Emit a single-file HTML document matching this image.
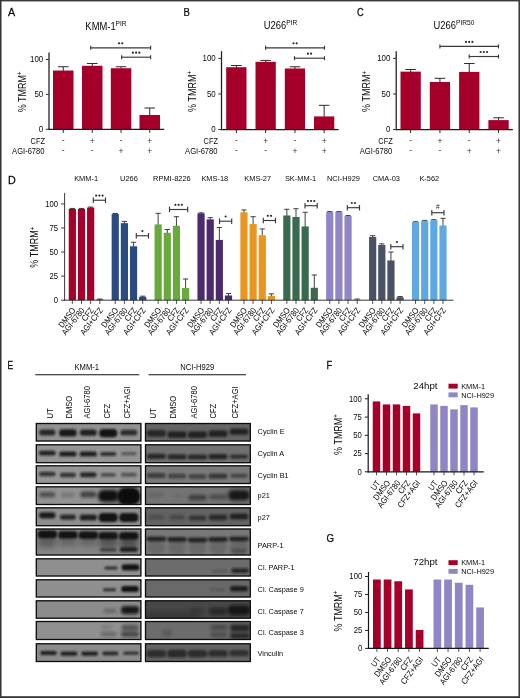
<!DOCTYPE html>
<html><head><meta charset="utf-8"><title>Figure</title>
<style>
html,body{margin:0;padding:0;background:#fff;}
body{width:520px;height:698px;overflow:hidden;font-family:"Liberation Sans",sans-serif;}
svg{display:block;will-change:transform;font-family:"Liberation Sans",sans-serif;}
</style></head><body>
<svg width="520" height="698" viewBox="0 0 520 698">
<rect x="0" y="0" width="520" height="698" fill="#ffffff"/>
<text transform="translate(8 16.3) scale(0.92 1)" font-size="11.7" text-anchor="start" fill="#0a0a0a" stroke="#0a0a0a" stroke-width="0.25">A</text>
<text transform="translate(106 30.0) scale(0.92 1)" font-size="10.2" text-anchor="middle" fill="#0a0a0a">KMM-1<tspan font-size="7.2" dy="-3.9">PIR</tspan></text>
<line x1="63.25" y1="71.0284" x2="63.25" y2="66.7592" stroke="#2a2a2a" stroke-width="1.0"/>
<line x1="57.95" y1="66.7592" x2="68.55" y2="66.7592" stroke="#2a2a2a" stroke-width="1.0"/>
<rect x="53.00" y="70.53" width="20.50" height="58.77" fill="#a5002a"/>
<line x1="92.25" y1="66.28200000000001" x2="92.25" y2="63.4786" stroke="#2a2a2a" stroke-width="1.0"/>
<line x1="86.95" y1="63.4786" x2="97.55" y2="63.4786" stroke="#2a2a2a" stroke-width="1.0"/>
<rect x="82.00" y="65.78" width="20.50" height="63.52" fill="#a5002a"/>
<line x1="121.05" y1="68.72500000000001" x2="121.05" y2="66.7592" stroke="#2a2a2a" stroke-width="1.0"/>
<line x1="115.75" y1="66.7592" x2="126.35" y2="66.7592" stroke="#2a2a2a" stroke-width="1.0"/>
<rect x="110.80" y="68.23" width="20.50" height="61.08" fill="#a5002a"/>
<line x1="149.75" y1="115.49100000000001" x2="149.75" y2="108.01100000000001" stroke="#2a2a2a" stroke-width="1.0"/>
<line x1="144.45" y1="108.01100000000001" x2="155.05" y2="108.01100000000001" stroke="#2a2a2a" stroke-width="1.0"/>
<rect x="139.50" y="114.99" width="20.50" height="14.31" fill="#a5002a"/>
<line x1="49.0" y1="52.5" x2="49.0" y2="129.9" stroke="#1c1c1c" stroke-width="1.25"/>
<line x1="48.4" y1="129.3" x2="164.2" y2="129.3" stroke="#1c1c1c" stroke-width="1.25"/>
<line x1="45.8" y1="129.3" x2="49.0" y2="129.3" stroke="#333" stroke-width="1.0"/>
<text transform="translate(43.2 132.20000000000002) scale(0.94 1)" font-size="8.4" text-anchor="end" fill="#0a0a0a">0</text>
<line x1="45.8" y1="94.4" x2="49.0" y2="94.4" stroke="#333" stroke-width="1.0"/>
<text transform="translate(43.2 97.30000000000001) scale(0.94 1)" font-size="8.4" text-anchor="end" fill="#0a0a0a">50</text>
<line x1="45.8" y1="59.5" x2="49.0" y2="59.5" stroke="#333" stroke-width="1.0"/>
<text transform="translate(43.2 62.4) scale(0.94 1)" font-size="8.4" text-anchor="end" fill="#0a0a0a">100</text>
<line x1="63.25" y1="129.3" x2="63.25" y2="132.8" stroke="#222" stroke-width="1.0"/>
<text x="63.25" y="142.70000000000002" font-size="8.5" text-anchor="middle" fill="#333">-</text>
<text x="63.25" y="152.70000000000002" font-size="8.5" text-anchor="middle" fill="#333">-</text>
<line x1="92.25" y1="129.3" x2="92.25" y2="132.8" stroke="#222" stroke-width="1.0"/>
<text x="92.25" y="143.8" font-size="8.5" text-anchor="middle" fill="#333">+</text>
<text x="92.25" y="152.70000000000002" font-size="8.5" text-anchor="middle" fill="#333">-</text>
<line x1="121.05" y1="129.3" x2="121.05" y2="132.8" stroke="#222" stroke-width="1.0"/>
<text x="121.05" y="142.70000000000002" font-size="8.5" text-anchor="middle" fill="#333">-</text>
<text x="121.05" y="153.8" font-size="8.5" text-anchor="middle" fill="#333">+</text>
<line x1="149.75" y1="129.3" x2="149.75" y2="132.8" stroke="#222" stroke-width="1.0"/>
<text x="149.75" y="143.8" font-size="8.5" text-anchor="middle" fill="#333">+</text>
<text x="149.75" y="153.8" font-size="8.5" text-anchor="middle" fill="#333">+</text>
<text transform="translate(45 143.60000000000002) scale(0.86 1)" font-size="8.6" text-anchor="end" fill="#0a0a0a">CFZ</text>
<text transform="translate(44.5 153.70000000000002) scale(0.88 1)" font-size="8.6" text-anchor="end" fill="#0a0a0a">AGI-6780</text>
<text transform="translate(25.8 91.9) rotate(-90) scale(0.9 1)" font-size="10" text-anchor="middle" fill="#0a0a0a">% TMRM<tspan font-size="6.80" dy="-3.6">+</tspan></text>
<line x1="90.7" y1="47.8" x2="150.6" y2="47.8" stroke="#3a3a3a" stroke-width="1.15"/>
<line x1="90.7" y1="45.8" x2="90.7" y2="49.8" stroke="#3a3a3a" stroke-width="1.15"/>
<line x1="150.6" y1="45.8" x2="150.6" y2="49.8" stroke="#3a3a3a" stroke-width="1.15"/>
<circle cx="119.05" cy="43.30" r="1.1" fill="#2e2e2e"/>
<circle cx="122.25" cy="43.30" r="1.1" fill="#2e2e2e"/>
<line x1="121.6" y1="57.2" x2="150.6" y2="57.2" stroke="#3a3a3a" stroke-width="1.15"/>
<line x1="121.6" y1="55.2" x2="121.6" y2="59.2" stroke="#3a3a3a" stroke-width="1.15"/>
<line x1="150.6" y1="55.2" x2="150.6" y2="59.2" stroke="#3a3a3a" stroke-width="1.15"/>
<circle cx="132.90" cy="52.70" r="1.1" fill="#2e2e2e"/>
<circle cx="136.10" cy="52.70" r="1.1" fill="#2e2e2e"/>
<circle cx="139.30" cy="52.70" r="1.1" fill="#2e2e2e"/>
<text transform="translate(183.5 16.3) scale(0.81 1)" font-size="11.7" text-anchor="start" fill="#0a0a0a" stroke="#0a0a0a" stroke-width="0.25">B</text>
<text transform="translate(280.5 28.7) scale(0.92 1)" font-size="10.2" text-anchor="middle" fill="#0a0a0a">U266<tspan font-size="7.2" dy="-3.9">PIR</tspan></text>
<line x1="236.35" y1="67.71640000000001" x2="236.35" y2="65.51" stroke="#2a2a2a" stroke-width="1.0"/>
<line x1="231.04999999999998" y1="65.51" x2="241.65" y2="65.51" stroke="#2a2a2a" stroke-width="1.0"/>
<rect x="226.20" y="67.22" width="20.30" height="62.28" fill="#a5002a"/>
<line x1="265.65" y1="62.312799999999996" x2="265.65" y2="60.3908" stroke="#2a2a2a" stroke-width="1.0"/>
<line x1="260.34999999999997" y1="60.3908" x2="270.95" y2="60.3908" stroke="#2a2a2a" stroke-width="1.0"/>
<rect x="255.50" y="61.81" width="20.30" height="67.69" fill="#a5002a"/>
<line x1="294.95" y1="68.9962" x2="294.95" y2="66.7898" stroke="#2a2a2a" stroke-width="1.0"/>
<line x1="289.65" y1="66.7898" x2="300.25" y2="66.7898" stroke="#2a2a2a" stroke-width="1.0"/>
<rect x="284.80" y="68.50" width="20.30" height="61.00" fill="#a5002a"/>
<line x1="324.15" y1="116.91760000000001" x2="324.15" y2="105.326" stroke="#2a2a2a" stroke-width="1.0"/>
<line x1="318.84999999999997" y1="105.326" x2="329.45" y2="105.326" stroke="#2a2a2a" stroke-width="1.0"/>
<rect x="314.00" y="116.42" width="20.30" height="13.08" fill="#a5002a"/>
<line x1="221.5" y1="51.2" x2="221.5" y2="130.1" stroke="#1c1c1c" stroke-width="1.25"/>
<line x1="220.9" y1="129.5" x2="338.6" y2="129.5" stroke="#1c1c1c" stroke-width="1.25"/>
<line x1="218.3" y1="129.5" x2="221.5" y2="129.5" stroke="#333" stroke-width="1.0"/>
<text transform="translate(215.7 132.4) scale(0.94 1)" font-size="8.4" text-anchor="end" fill="#0a0a0a">0</text>
<line x1="218.3" y1="93.95" x2="221.5" y2="93.95" stroke="#333" stroke-width="1.0"/>
<text transform="translate(215.7 96.85000000000001) scale(0.94 1)" font-size="8.4" text-anchor="end" fill="#0a0a0a">50</text>
<line x1="218.3" y1="58.400000000000006" x2="221.5" y2="58.400000000000006" stroke="#333" stroke-width="1.0"/>
<text transform="translate(215.7 61.300000000000004) scale(0.94 1)" font-size="8.4" text-anchor="end" fill="#0a0a0a">100</text>
<line x1="236.35" y1="129.5" x2="236.35" y2="133.0" stroke="#222" stroke-width="1.0"/>
<text x="236.35" y="142.9" font-size="8.5" text-anchor="middle" fill="#333">-</text>
<text x="236.35" y="152.9" font-size="8.5" text-anchor="middle" fill="#333">-</text>
<line x1="265.65" y1="129.5" x2="265.65" y2="133.0" stroke="#222" stroke-width="1.0"/>
<text x="265.65" y="144.0" font-size="8.5" text-anchor="middle" fill="#333">+</text>
<text x="265.65" y="152.9" font-size="8.5" text-anchor="middle" fill="#333">-</text>
<line x1="294.95" y1="129.5" x2="294.95" y2="133.0" stroke="#222" stroke-width="1.0"/>
<text x="294.95" y="142.9" font-size="8.5" text-anchor="middle" fill="#333">-</text>
<text x="294.95" y="154.0" font-size="8.5" text-anchor="middle" fill="#333">+</text>
<line x1="324.15" y1="129.5" x2="324.15" y2="133.0" stroke="#222" stroke-width="1.0"/>
<text x="324.15" y="144.0" font-size="8.5" text-anchor="middle" fill="#333">+</text>
<text x="324.15" y="154.0" font-size="8.5" text-anchor="middle" fill="#333">+</text>
<text transform="translate(218 143.8) scale(0.86 1)" font-size="8.6" text-anchor="end" fill="#0a0a0a">CFZ</text>
<text transform="translate(217.5 153.9) scale(0.88 1)" font-size="8.6" text-anchor="end" fill="#0a0a0a">AGI-6780</text>
<text transform="translate(195.8 91.45) rotate(-90) scale(0.9 1)" font-size="10" text-anchor="middle" fill="#0a0a0a">% TMRM<tspan font-size="6.80" dy="-3.6">+</tspan></text>
<line x1="265.6" y1="47.8" x2="324.5" y2="47.8" stroke="#3a3a3a" stroke-width="1.15"/>
<line x1="265.6" y1="45.8" x2="265.6" y2="49.8" stroke="#3a3a3a" stroke-width="1.15"/>
<line x1="324.5" y1="45.8" x2="324.5" y2="49.8" stroke="#3a3a3a" stroke-width="1.15"/>
<circle cx="293.45" cy="43.30" r="1.1" fill="#2e2e2e"/>
<circle cx="296.65" cy="43.30" r="1.1" fill="#2e2e2e"/>
<line x1="294.5" y1="58.2" x2="324.5" y2="58.2" stroke="#3a3a3a" stroke-width="1.15"/>
<line x1="294.5" y1="56.2" x2="294.5" y2="60.2" stroke="#3a3a3a" stroke-width="1.15"/>
<line x1="324.5" y1="56.2" x2="324.5" y2="60.2" stroke="#3a3a3a" stroke-width="1.15"/>
<circle cx="307.90" cy="53.70" r="1.1" fill="#2e2e2e"/>
<circle cx="311.10" cy="53.70" r="1.1" fill="#2e2e2e"/>
<text transform="translate(357 16.3) scale(0.8 1)" font-size="11.7" text-anchor="start" fill="#0a0a0a" stroke="#0a0a0a" stroke-width="0.25">C</text>
<text transform="translate(454 28.7) scale(0.92 1)" font-size="10.2" text-anchor="middle" fill="#0a0a0a">U266<tspan font-size="7.2" dy="-3.9">PIR50</tspan></text>
<line x1="410.65" y1="72.1246" x2="410.65" y2="69.4916" stroke="#2a2a2a" stroke-width="1.0"/>
<line x1="405.34999999999997" y1="69.4916" x2="415.95" y2="69.4916" stroke="#2a2a2a" stroke-width="1.0"/>
<rect x="400.50" y="71.62" width="20.30" height="57.88" fill="#a5002a"/>
<line x1="439.95" y1="82.5052" x2="439.95" y2="78.30799999999999" stroke="#2a2a2a" stroke-width="1.0"/>
<line x1="434.65" y1="78.30799999999999" x2="445.25" y2="78.30799999999999" stroke="#2a2a2a" stroke-width="1.0"/>
<rect x="429.80" y="82.01" width="20.30" height="47.49" fill="#a5002a"/>
<line x1="469.25" y1="72.409" x2="469.25" y2="63.51920000000001" stroke="#2a2a2a" stroke-width="1.0"/>
<line x1="463.95" y1="63.51920000000001" x2="474.55" y2="63.51920000000001" stroke="#2a2a2a" stroke-width="1.0"/>
<rect x="459.10" y="71.91" width="20.30" height="57.59" fill="#a5002a"/>
<line x1="498.54999999999995" y1="120.6148" x2="498.54999999999995" y2="117.7685" stroke="#2a2a2a" stroke-width="1.0"/>
<line x1="493.24999999999994" y1="117.7685" x2="503.84999999999997" y2="117.7685" stroke="#2a2a2a" stroke-width="1.0"/>
<rect x="488.40" y="120.11" width="20.30" height="9.39" fill="#a5002a"/>
<line x1="396.2" y1="51.2" x2="396.2" y2="130.1" stroke="#1c1c1c" stroke-width="1.25"/>
<line x1="395.59999999999997" y1="129.5" x2="512.9" y2="129.5" stroke="#1c1c1c" stroke-width="1.25"/>
<line x1="393.0" y1="129.5" x2="396.2" y2="129.5" stroke="#333" stroke-width="1.0"/>
<text transform="translate(390.4 132.4) scale(0.94 1)" font-size="8.4" text-anchor="end" fill="#0a0a0a">0</text>
<line x1="393.0" y1="93.95" x2="396.2" y2="93.95" stroke="#333" stroke-width="1.0"/>
<text transform="translate(390.4 96.85000000000001) scale(0.94 1)" font-size="8.4" text-anchor="end" fill="#0a0a0a">50</text>
<line x1="393.0" y1="58.400000000000006" x2="396.2" y2="58.400000000000006" stroke="#333" stroke-width="1.0"/>
<text transform="translate(390.4 61.300000000000004) scale(0.94 1)" font-size="8.4" text-anchor="end" fill="#0a0a0a">100</text>
<line x1="410.65" y1="129.5" x2="410.65" y2="133.0" stroke="#222" stroke-width="1.0"/>
<text x="410.65" y="142.9" font-size="8.5" text-anchor="middle" fill="#333">-</text>
<text x="410.65" y="152.9" font-size="8.5" text-anchor="middle" fill="#333">-</text>
<line x1="439.95" y1="129.5" x2="439.95" y2="133.0" stroke="#222" stroke-width="1.0"/>
<text x="439.95" y="144.0" font-size="8.5" text-anchor="middle" fill="#333">+</text>
<text x="439.95" y="152.9" font-size="8.5" text-anchor="middle" fill="#333">-</text>
<line x1="469.25" y1="129.5" x2="469.25" y2="133.0" stroke="#222" stroke-width="1.0"/>
<text x="469.25" y="142.9" font-size="8.5" text-anchor="middle" fill="#333">-</text>
<text x="469.25" y="154.0" font-size="8.5" text-anchor="middle" fill="#333">+</text>
<line x1="498.54999999999995" y1="129.5" x2="498.54999999999995" y2="133.0" stroke="#222" stroke-width="1.0"/>
<text x="498.54999999999995" y="144.0" font-size="8.5" text-anchor="middle" fill="#333">+</text>
<text x="498.54999999999995" y="154.0" font-size="8.5" text-anchor="middle" fill="#333">+</text>
<text transform="translate(392.7 143.8) scale(0.86 1)" font-size="8.6" text-anchor="end" fill="#0a0a0a">CFZ</text>
<text transform="translate(392.2 153.9) scale(0.88 1)" font-size="8.6" text-anchor="end" fill="#0a0a0a">AGI-6780</text>
<text transform="translate(370.3 91.45) rotate(-90) scale(0.9 1)" font-size="10" text-anchor="middle" fill="#0a0a0a">% TMRM<tspan font-size="6.80" dy="-3.6">+</tspan></text>
<line x1="439.9" y1="46.4" x2="498.5" y2="46.4" stroke="#3a3a3a" stroke-width="1.15"/>
<line x1="439.9" y1="44.4" x2="439.9" y2="48.4" stroke="#3a3a3a" stroke-width="1.15"/>
<line x1="498.5" y1="44.4" x2="498.5" y2="48.4" stroke="#3a3a3a" stroke-width="1.15"/>
<circle cx="466.00" cy="41.90" r="1.1" fill="#2e2e2e"/>
<circle cx="469.20" cy="41.90" r="1.1" fill="#2e2e2e"/>
<circle cx="472.40" cy="41.90" r="1.1" fill="#2e2e2e"/>
<line x1="469.2" y1="56.5" x2="498.5" y2="56.5" stroke="#3a3a3a" stroke-width="1.15"/>
<line x1="469.2" y1="54.5" x2="469.2" y2="58.5" stroke="#3a3a3a" stroke-width="1.15"/>
<line x1="498.5" y1="54.5" x2="498.5" y2="58.5" stroke="#3a3a3a" stroke-width="1.15"/>
<circle cx="480.65" cy="52.00" r="1.1" fill="#2e2e2e"/>
<circle cx="483.85" cy="52.00" r="1.1" fill="#2e2e2e"/>
<circle cx="487.05" cy="52.00" r="1.1" fill="#2e2e2e"/>
<text transform="translate(8 183.6) scale(0.92 1)" font-size="11.7" text-anchor="start" fill="#0a0a0a" stroke="#0a0a0a" stroke-width="0.25">D</text>
<text transform="translate(86.075 181.4) scale(0.94 1)" font-size="7.9" text-anchor="middle" fill="#0a0a0a">KMM-1</text>
<line x1="72.35" y1="209.4076" x2="72.35" y2="208.42610000000002" stroke="#2a2a2a" stroke-width="0.9"/>
<line x1="69.75" y1="208.42610000000002" x2="74.94999999999999" y2="208.42610000000002" stroke="#2a2a2a" stroke-width="0.9"/>
<rect x="68.75" y="208.91" width="7.20" height="91.29" fill="#a5002a"/>
<line x1="72.35" y1="300.2" x2="72.35" y2="303.9" stroke="#222" stroke-width="0.8"/>
<text transform="translate(75.94999999999999 310.3) rotate(-53) scale(0.88 1)" font-size="8.5" text-anchor="end" fill="#0a0a0a">DMSO</text>
<line x1="81.5" y1="209.4076" x2="81.5" y2="208.42610000000002" stroke="#2a2a2a" stroke-width="0.9"/>
<line x1="78.9" y1="208.42610000000002" x2="84.1" y2="208.42610000000002" stroke="#2a2a2a" stroke-width="0.9"/>
<rect x="77.90" y="208.91" width="7.20" height="91.29" fill="#a5002a"/>
<line x1="81.5" y1="300.2" x2="81.5" y2="303.9" stroke="#222" stroke-width="0.8"/>
<text transform="translate(85.1 310.3) rotate(-53) scale(0.88 1)" font-size="8.5" text-anchor="end" fill="#0a0a0a">AGI-6780</text>
<line x1="90.64999999999999" y1="208.05939999999998" x2="90.64999999999999" y2="207.0779" stroke="#2a2a2a" stroke-width="0.9"/>
<line x1="88.05" y1="207.0779" x2="93.24999999999999" y2="207.0779" stroke="#2a2a2a" stroke-width="0.9"/>
<rect x="87.05" y="207.56" width="7.20" height="92.64" fill="#a5002a"/>
<line x1="90.64999999999999" y1="300.2" x2="90.64999999999999" y2="303.9" stroke="#222" stroke-width="0.8"/>
<text transform="translate(94.24999999999999 310.3) rotate(-53) scale(0.88 1)" font-size="8.5" text-anchor="end" fill="#0a0a0a">CFZ</text>
<line x1="99.8" y1="300.0259" x2="99.8" y2="299.0444" stroke="#2a2a2a" stroke-width="0.9"/>
<line x1="97.2" y1="299.0444" x2="102.39999999999999" y2="299.0444" stroke="#2a2a2a" stroke-width="0.9"/>
<rect x="96.20" y="299.53" width="7.20" height="0.67" fill="#a5002a"/>
<line x1="99.8" y1="300.2" x2="99.8" y2="303.9" stroke="#222" stroke-width="0.8"/>
<text transform="translate(103.39999999999999 310.3) rotate(-53) scale(0.88 1)" font-size="8.5" text-anchor="end" fill="#0a0a0a">AGI+CFZ</text>
<line x1="93.3" y1="200.25" x2="105.5" y2="200.25" stroke="#3a3a3a" stroke-width="1.15"/>
<line x1="93.3" y1="197.45" x2="93.3" y2="203.05" stroke="#3a3a3a" stroke-width="1.15"/>
<line x1="105.5" y1="197.45" x2="105.5" y2="203.05" stroke="#3a3a3a" stroke-width="1.15"/>
<circle cx="96.20" cy="195.55" r="1.1" fill="#2e2e2e"/>
<circle cx="99.40" cy="195.55" r="1.1" fill="#2e2e2e"/>
<circle cx="102.60" cy="195.55" r="1.1" fill="#2e2e2e"/>
<text transform="translate(128.97500000000002 181.4) scale(0.94 1)" font-size="7.9" text-anchor="middle" fill="#0a0a0a">U266</text>
<line x1="115.25" y1="214.5115" x2="115.25" y2="213.53" stroke="#2a2a2a" stroke-width="0.9"/>
<line x1="112.65" y1="213.53" x2="117.85" y2="213.53" stroke="#2a2a2a" stroke-width="0.9"/>
<rect x="111.65" y="214.01" width="7.20" height="86.19" fill="#2a4b80"/>
<line x1="115.25" y1="300.2" x2="115.25" y2="303.9" stroke="#222" stroke-width="0.8"/>
<text transform="translate(118.85 310.3) rotate(-53) scale(0.88 1)" font-size="8.5" text-anchor="end" fill="#0a0a0a">DMSO</text>
<line x1="124.4" y1="223.66" x2="124.4" y2="221.4266" stroke="#2a2a2a" stroke-width="0.9"/>
<line x1="121.80000000000001" y1="221.4266" x2="127.0" y2="221.4266" stroke="#2a2a2a" stroke-width="0.9"/>
<rect x="120.80" y="223.16" width="7.20" height="77.04" fill="#2a4b80"/>
<line x1="124.4" y1="300.2" x2="124.4" y2="303.9" stroke="#222" stroke-width="0.8"/>
<text transform="translate(128.0 310.3) rotate(-53) scale(0.88 1)" font-size="8.5" text-anchor="end" fill="#0a0a0a">AGI-6780</text>
<line x1="133.55" y1="246.772" x2="133.55" y2="242.2274" stroke="#2a2a2a" stroke-width="0.9"/>
<line x1="130.95000000000002" y1="242.2274" x2="136.15" y2="242.2274" stroke="#2a2a2a" stroke-width="0.9"/>
<rect x="129.95" y="246.27" width="7.20" height="53.93" fill="#2a4b80"/>
<line x1="133.55" y1="300.2" x2="133.55" y2="303.9" stroke="#222" stroke-width="0.8"/>
<text transform="translate(137.15 310.3) rotate(-53) scale(0.88 1)" font-size="8.5" text-anchor="end" fill="#0a0a0a">CFZ</text>
<line x1="142.70000000000002" y1="297.3295" x2="142.70000000000002" y2="296.1554" stroke="#2a2a2a" stroke-width="0.9"/>
<line x1="140.10000000000002" y1="296.1554" x2="145.3" y2="296.1554" stroke="#2a2a2a" stroke-width="0.9"/>
<rect x="139.10" y="296.83" width="7.20" height="3.37" fill="#2a4b80"/>
<line x1="142.70000000000002" y1="300.2" x2="142.70000000000002" y2="303.9" stroke="#222" stroke-width="0.8"/>
<text transform="translate(146.3 310.3) rotate(-53) scale(0.88 1)" font-size="8.5" text-anchor="end" fill="#0a0a0a">AGI+CFZ</text>
<line x1="136.3" y1="235.75" x2="148.5" y2="235.75" stroke="#3a3a3a" stroke-width="1.15"/>
<line x1="136.3" y1="232.95" x2="136.3" y2="238.55" stroke="#3a3a3a" stroke-width="1.15"/>
<line x1="148.5" y1="232.95" x2="148.5" y2="238.55" stroke="#3a3a3a" stroke-width="1.15"/>
<circle cx="142.40" cy="231.05" r="1.1" fill="#2e2e2e"/>
<text transform="translate(171.875 181.4) scale(0.94 1)" font-size="7.9" text-anchor="middle" fill="#0a0a0a">RPMI-8226</text>
<line x1="158.15" y1="224.9119" x2="158.15" y2="213.3374" stroke="#2a2a2a" stroke-width="0.9"/>
<line x1="155.55" y1="213.3374" x2="160.75" y2="213.3374" stroke="#2a2a2a" stroke-width="0.9"/>
<rect x="154.55" y="224.41" width="7.20" height="75.79" fill="#6aaa3c"/>
<line x1="158.15" y1="300.2" x2="158.15" y2="303.9" stroke="#222" stroke-width="0.8"/>
<text transform="translate(161.75 310.3) rotate(-53) scale(0.88 1)" font-size="8.5" text-anchor="end" fill="#0a0a0a">DMSO</text>
<line x1="167.3" y1="233.29" x2="167.3" y2="229.5158" stroke="#2a2a2a" stroke-width="0.9"/>
<line x1="164.70000000000002" y1="229.5158" x2="169.9" y2="229.5158" stroke="#2a2a2a" stroke-width="0.9"/>
<rect x="163.70" y="232.79" width="7.20" height="67.41" fill="#6aaa3c"/>
<line x1="167.3" y1="300.2" x2="167.3" y2="303.9" stroke="#222" stroke-width="0.8"/>
<text transform="translate(170.9 310.3) rotate(-53) scale(0.88 1)" font-size="8.5" text-anchor="end" fill="#0a0a0a">AGI-6780</text>
<line x1="176.45000000000002" y1="226.26010000000002" x2="176.45000000000002" y2="216.7079" stroke="#2a2a2a" stroke-width="0.9"/>
<line x1="173.85000000000002" y1="216.7079" x2="179.05" y2="216.7079" stroke="#2a2a2a" stroke-width="0.9"/>
<rect x="172.85" y="225.76" width="7.20" height="74.44" fill="#6aaa3c"/>
<line x1="176.45000000000002" y1="300.2" x2="176.45000000000002" y2="303.9" stroke="#222" stroke-width="0.8"/>
<text transform="translate(180.05 310.3) rotate(-53) scale(0.88 1)" font-size="8.5" text-anchor="end" fill="#0a0a0a">CFZ</text>
<line x1="185.6" y1="288.5662" x2="185.6" y2="279.014" stroke="#2a2a2a" stroke-width="0.9"/>
<line x1="183.0" y1="279.014" x2="188.2" y2="279.014" stroke="#2a2a2a" stroke-width="0.9"/>
<rect x="182.00" y="288.07" width="7.20" height="12.13" fill="#6aaa3c"/>
<line x1="185.6" y1="300.2" x2="185.6" y2="303.9" stroke="#222" stroke-width="0.8"/>
<text transform="translate(189.2 310.3) rotate(-53) scale(0.88 1)" font-size="8.5" text-anchor="end" fill="#0a0a0a">AGI+CFZ</text>
<line x1="169.5" y1="209.5" x2="187.7" y2="209.5" stroke="#3a3a3a" stroke-width="1.15"/>
<line x1="169.5" y1="206.7" x2="169.5" y2="212.3" stroke="#3a3a3a" stroke-width="1.15"/>
<line x1="187.7" y1="206.7" x2="187.7" y2="212.3" stroke="#3a3a3a" stroke-width="1.15"/>
<circle cx="175.40" cy="204.80" r="1.1" fill="#2e2e2e"/>
<circle cx="178.60" cy="204.80" r="1.1" fill="#2e2e2e"/>
<circle cx="181.80" cy="204.80" r="1.1" fill="#2e2e2e"/>
<text transform="translate(214.77499999999998 181.4) scale(0.94 1)" font-size="7.9" text-anchor="middle" fill="#0a0a0a">KMS-18</text>
<line x1="201.04999999999998" y1="213.8374" x2="201.04999999999998" y2="212.85590000000002" stroke="#2a2a2a" stroke-width="0.9"/>
<line x1="198.45" y1="212.85590000000002" x2="203.64999999999998" y2="212.85590000000002" stroke="#2a2a2a" stroke-width="0.9"/>
<rect x="197.45" y="213.34" width="7.20" height="86.86" fill="#4d2a6d"/>
<line x1="201.04999999999998" y1="300.2" x2="201.04999999999998" y2="303.9" stroke="#222" stroke-width="0.8"/>
<text transform="translate(204.64999999999998 310.3) rotate(-53) scale(0.88 1)" font-size="8.5" text-anchor="end" fill="#0a0a0a">DMSO</text>
<line x1="210.2" y1="219.90429999999998" x2="210.2" y2="217.67090000000002" stroke="#2a2a2a" stroke-width="0.9"/>
<line x1="207.6" y1="217.67090000000002" x2="212.79999999999998" y2="217.67090000000002" stroke="#2a2a2a" stroke-width="0.9"/>
<rect x="206.60" y="219.40" width="7.20" height="80.80" fill="#4d2a6d"/>
<line x1="210.2" y1="300.2" x2="210.2" y2="303.9" stroke="#222" stroke-width="0.8"/>
<text transform="translate(213.79999999999998 310.3) rotate(-53) scale(0.88 1)" font-size="8.5" text-anchor="end" fill="#0a0a0a">AGI-6780</text>
<line x1="219.35" y1="240.4162" x2="219.35" y2="227.49349999999998" stroke="#2a2a2a" stroke-width="0.9"/>
<line x1="216.75" y1="227.49349999999998" x2="221.95" y2="227.49349999999998" stroke="#2a2a2a" stroke-width="0.9"/>
<rect x="215.75" y="239.92" width="7.20" height="60.28" fill="#4d2a6d"/>
<line x1="219.35" y1="300.2" x2="219.35" y2="303.9" stroke="#222" stroke-width="0.8"/>
<text transform="translate(222.95 310.3) rotate(-53) scale(0.88 1)" font-size="8.5" text-anchor="end" fill="#0a0a0a">CFZ</text>
<line x1="228.49999999999997" y1="295.9813" x2="228.49999999999997" y2="293.459" stroke="#2a2a2a" stroke-width="0.9"/>
<line x1="225.89999999999998" y1="293.459" x2="231.09999999999997" y2="293.459" stroke="#2a2a2a" stroke-width="0.9"/>
<rect x="224.90" y="295.48" width="7.20" height="4.72" fill="#4d2a6d"/>
<line x1="228.49999999999997" y1="300.2" x2="228.49999999999997" y2="303.9" stroke="#222" stroke-width="0.8"/>
<text transform="translate(232.09999999999997 310.3) rotate(-53) scale(0.88 1)" font-size="8.5" text-anchor="end" fill="#0a0a0a">AGI+CFZ</text>
<line x1="219.5" y1="221.2" x2="231.7" y2="221.2" stroke="#3a3a3a" stroke-width="1.15"/>
<line x1="219.5" y1="218.39999999999998" x2="219.5" y2="224.0" stroke="#3a3a3a" stroke-width="1.15"/>
<line x1="231.7" y1="218.39999999999998" x2="231.7" y2="224.0" stroke="#3a3a3a" stroke-width="1.15"/>
<circle cx="225.60" cy="216.50" r="1.1" fill="#2e2e2e"/>
<text transform="translate(257.675 181.4) scale(0.94 1)" font-size="7.9" text-anchor="middle" fill="#0a0a0a">KMS-27</text>
<line x1="243.95" y1="212.7781" x2="243.95" y2="209.9669" stroke="#2a2a2a" stroke-width="0.9"/>
<line x1="241.35" y1="209.9669" x2="246.54999999999998" y2="209.9669" stroke="#2a2a2a" stroke-width="0.9"/>
<rect x="240.35" y="212.28" width="7.20" height="87.92" fill="#e8961f"/>
<line x1="243.95" y1="300.2" x2="243.95" y2="303.9" stroke="#222" stroke-width="0.8"/>
<text transform="translate(247.54999999999998 310.3) rotate(-53) scale(0.88 1)" font-size="8.5" text-anchor="end" fill="#0a0a0a">DMSO</text>
<line x1="253.1" y1="224.623" x2="253.1" y2="216.7079" stroke="#2a2a2a" stroke-width="0.9"/>
<line x1="250.5" y1="216.7079" x2="255.7" y2="216.7079" stroke="#2a2a2a" stroke-width="0.9"/>
<rect x="249.50" y="224.12" width="7.20" height="76.08" fill="#e8961f"/>
<line x1="253.1" y1="300.2" x2="253.1" y2="303.9" stroke="#222" stroke-width="0.8"/>
<text transform="translate(256.7 310.3) rotate(-53) scale(0.88 1)" font-size="8.5" text-anchor="end" fill="#0a0a0a">AGI-6780</text>
<line x1="262.25" y1="235.6975" x2="262.25" y2="228.938" stroke="#2a2a2a" stroke-width="0.9"/>
<line x1="259.65" y1="228.938" x2="264.85" y2="228.938" stroke="#2a2a2a" stroke-width="0.9"/>
<rect x="258.65" y="235.20" width="7.20" height="65.00" fill="#e8961f"/>
<line x1="262.25" y1="300.2" x2="262.25" y2="303.9" stroke="#222" stroke-width="0.8"/>
<text transform="translate(265.85 310.3) rotate(-53) scale(0.88 1)" font-size="8.5" text-anchor="end" fill="#0a0a0a">CFZ</text>
<line x1="271.40000000000003" y1="296.3665" x2="271.40000000000003" y2="293.8442" stroke="#2a2a2a" stroke-width="0.9"/>
<line x1="268.8" y1="293.8442" x2="274.00000000000006" y2="293.8442" stroke="#2a2a2a" stroke-width="0.9"/>
<rect x="267.80" y="295.87" width="7.20" height="4.33" fill="#e8961f"/>
<line x1="271.40000000000003" y1="300.2" x2="271.40000000000003" y2="303.9" stroke="#222" stroke-width="0.8"/>
<text transform="translate(275.00000000000006 310.3) rotate(-53) scale(0.88 1)" font-size="8.5" text-anchor="end" fill="#0a0a0a">AGI+CFZ</text>
<line x1="263.3" y1="220.5" x2="275.5" y2="220.5" stroke="#3a3a3a" stroke-width="1.15"/>
<line x1="263.3" y1="217.7" x2="263.3" y2="223.3" stroke="#3a3a3a" stroke-width="1.15"/>
<line x1="275.5" y1="217.7" x2="275.5" y2="223.3" stroke="#3a3a3a" stroke-width="1.15"/>
<circle cx="267.80" cy="215.80" r="1.1" fill="#2e2e2e"/>
<circle cx="271.00" cy="215.80" r="1.1" fill="#2e2e2e"/>
<text transform="translate(300.575 181.4) scale(0.94 1)" font-size="7.9" text-anchor="middle" fill="#0a0a0a">SK-MM-1</text>
<line x1="286.85" y1="215.95600000000002" x2="286.85" y2="209.2928" stroke="#2a2a2a" stroke-width="0.9"/>
<line x1="284.25" y1="209.2928" x2="289.45000000000005" y2="209.2928" stroke="#2a2a2a" stroke-width="0.9"/>
<rect x="283.25" y="215.46" width="7.20" height="84.74" fill="#3b6b4f"/>
<line x1="286.85" y1="300.2" x2="286.85" y2="303.9" stroke="#222" stroke-width="0.8"/>
<text transform="translate(290.45000000000005 310.3) rotate(-53) scale(0.88 1)" font-size="8.5" text-anchor="end" fill="#0a0a0a">DMSO</text>
<line x1="296.0" y1="217.4968" x2="296.0" y2="208.715" stroke="#2a2a2a" stroke-width="0.9"/>
<line x1="293.4" y1="208.715" x2="298.6" y2="208.715" stroke="#2a2a2a" stroke-width="0.9"/>
<rect x="292.40" y="217.00" width="7.20" height="83.20" fill="#3b6b4f"/>
<line x1="296.0" y1="300.2" x2="296.0" y2="303.9" stroke="#222" stroke-width="0.8"/>
<text transform="translate(299.6 310.3) rotate(-53) scale(0.88 1)" font-size="8.5" text-anchor="end" fill="#0a0a0a">AGI-6780</text>
<line x1="305.15000000000003" y1="226.9342" x2="305.15000000000003" y2="212.2781" stroke="#2a2a2a" stroke-width="0.9"/>
<line x1="302.55" y1="212.2781" x2="307.75000000000006" y2="212.2781" stroke="#2a2a2a" stroke-width="0.9"/>
<rect x="301.55" y="226.43" width="7.20" height="73.77" fill="#3b6b4f"/>
<line x1="305.15000000000003" y1="300.2" x2="305.15000000000003" y2="303.9" stroke="#222" stroke-width="0.8"/>
<text transform="translate(308.75000000000006 310.3) rotate(-53) scale(0.88 1)" font-size="8.5" text-anchor="end" fill="#0a0a0a">CFZ</text>
<line x1="314.3" y1="288.27729999999997" x2="314.3" y2="274.9694" stroke="#2a2a2a" stroke-width="0.9"/>
<line x1="311.7" y1="274.9694" x2="316.90000000000003" y2="274.9694" stroke="#2a2a2a" stroke-width="0.9"/>
<rect x="310.70" y="287.78" width="7.20" height="12.42" fill="#3b6b4f"/>
<line x1="314.3" y1="300.2" x2="314.3" y2="303.9" stroke="#222" stroke-width="0.8"/>
<text transform="translate(317.90000000000003 310.3) rotate(-53) scale(0.88 1)" font-size="8.5" text-anchor="end" fill="#0a0a0a">AGI+CFZ</text>
<line x1="305.0" y1="205.7" x2="317.2" y2="205.7" stroke="#3a3a3a" stroke-width="1.15"/>
<line x1="305.0" y1="202.89999999999998" x2="305.0" y2="208.5" stroke="#3a3a3a" stroke-width="1.15"/>
<line x1="317.2" y1="202.89999999999998" x2="317.2" y2="208.5" stroke="#3a3a3a" stroke-width="1.15"/>
<circle cx="307.90" cy="201.00" r="1.1" fill="#2e2e2e"/>
<circle cx="311.10" cy="201.00" r="1.1" fill="#2e2e2e"/>
<circle cx="314.30" cy="201.00" r="1.1" fill="#2e2e2e"/>
<text transform="translate(343.47499999999997 181.4) scale(0.94 1)" font-size="7.9" text-anchor="middle" fill="#0a0a0a">NCI-H929</text>
<line x1="329.75" y1="212.4892" x2="329.75" y2="211.60399999999998" stroke="#2a2a2a" stroke-width="0.9"/>
<line x1="327.15" y1="211.60399999999998" x2="332.35" y2="211.60399999999998" stroke="#2a2a2a" stroke-width="0.9"/>
<rect x="326.15" y="211.99" width="7.20" height="88.21" fill="#9086c5"/>
<line x1="329.75" y1="300.2" x2="329.75" y2="303.9" stroke="#222" stroke-width="0.8"/>
<text transform="translate(333.35 310.3) rotate(-53) scale(0.88 1)" font-size="8.5" text-anchor="end" fill="#0a0a0a">DMSO</text>
<line x1="338.9" y1="212.4892" x2="338.9" y2="211.60399999999998" stroke="#2a2a2a" stroke-width="0.9"/>
<line x1="336.29999999999995" y1="211.60399999999998" x2="341.5" y2="211.60399999999998" stroke="#2a2a2a" stroke-width="0.9"/>
<rect x="335.30" y="211.99" width="7.20" height="88.21" fill="#9086c5"/>
<line x1="338.9" y1="300.2" x2="338.9" y2="303.9" stroke="#222" stroke-width="0.8"/>
<text transform="translate(342.5 310.3) rotate(-53) scale(0.88 1)" font-size="8.5" text-anchor="end" fill="#0a0a0a">AGI-6780</text>
<line x1="348.05" y1="216.53379999999999" x2="348.05" y2="215.5523" stroke="#2a2a2a" stroke-width="0.9"/>
<line x1="345.45" y1="215.5523" x2="350.65000000000003" y2="215.5523" stroke="#2a2a2a" stroke-width="0.9"/>
<rect x="344.45" y="216.03" width="7.20" height="84.17" fill="#9086c5"/>
<line x1="348.05" y1="300.2" x2="348.05" y2="303.9" stroke="#222" stroke-width="0.8"/>
<text transform="translate(351.65000000000003 310.3) rotate(-53) scale(0.88 1)" font-size="8.5" text-anchor="end" fill="#0a0a0a">CFZ</text>
<line x1="357.2" y1="300.0259" x2="357.2" y2="299.0444" stroke="#2a2a2a" stroke-width="0.9"/>
<line x1="354.59999999999997" y1="299.0444" x2="359.8" y2="299.0444" stroke="#2a2a2a" stroke-width="0.9"/>
<rect x="353.60" y="299.53" width="7.20" height="0.67" fill="#9086c5"/>
<line x1="357.2" y1="300.2" x2="357.2" y2="303.9" stroke="#222" stroke-width="0.8"/>
<text transform="translate(360.8 310.3) rotate(-53) scale(0.88 1)" font-size="8.5" text-anchor="end" fill="#0a0a0a">AGI+CFZ</text>
<line x1="347.3" y1="207.7" x2="359.5" y2="207.7" stroke="#3a3a3a" stroke-width="1.15"/>
<line x1="347.3" y1="204.89999999999998" x2="347.3" y2="210.5" stroke="#3a3a3a" stroke-width="1.15"/>
<line x1="359.5" y1="204.89999999999998" x2="359.5" y2="210.5" stroke="#3a3a3a" stroke-width="1.15"/>
<circle cx="351.80" cy="203.00" r="1.1" fill="#2e2e2e"/>
<circle cx="355.00" cy="203.00" r="1.1" fill="#2e2e2e"/>
<text transform="translate(386.375 181.4) scale(0.94 1)" font-size="7.9" text-anchor="middle" fill="#0a0a0a">CMA-03</text>
<line x1="372.65000000000003" y1="237.4309" x2="372.65000000000003" y2="235.679" stroke="#2a2a2a" stroke-width="0.9"/>
<line x1="370.05" y1="235.679" x2="375.25000000000006" y2="235.679" stroke="#2a2a2a" stroke-width="0.9"/>
<rect x="369.05" y="236.93" width="7.20" height="63.27" fill="#4b5268"/>
<line x1="372.65000000000003" y1="300.2" x2="372.65000000000003" y2="303.9" stroke="#222" stroke-width="0.8"/>
<text transform="translate(376.25000000000006 310.3) rotate(-53) scale(0.88 1)" font-size="8.5" text-anchor="end" fill="#0a0a0a">DMSO</text>
<line x1="381.8" y1="245.5201" x2="381.8" y2="243.8645" stroke="#2a2a2a" stroke-width="0.9"/>
<line x1="379.2" y1="243.8645" x2="384.40000000000003" y2="243.8645" stroke="#2a2a2a" stroke-width="0.9"/>
<rect x="378.20" y="245.02" width="7.20" height="55.18" fill="#4b5268"/>
<line x1="381.8" y1="300.2" x2="381.8" y2="303.9" stroke="#222" stroke-width="0.8"/>
<text transform="translate(385.40000000000003 310.3) rotate(-53) scale(0.88 1)" font-size="8.5" text-anchor="end" fill="#0a0a0a">AGI-6780</text>
<line x1="390.95000000000005" y1="260.9281" x2="390.95000000000005" y2="252.05" stroke="#2a2a2a" stroke-width="0.9"/>
<line x1="388.35" y1="252.05" x2="393.55000000000007" y2="252.05" stroke="#2a2a2a" stroke-width="0.9"/>
<rect x="387.35" y="260.43" width="7.20" height="39.77" fill="#4b5268"/>
<line x1="390.95000000000005" y1="300.2" x2="390.95000000000005" y2="303.9" stroke="#222" stroke-width="0.8"/>
<text transform="translate(394.55000000000007 310.3) rotate(-53) scale(0.88 1)" font-size="8.5" text-anchor="end" fill="#0a0a0a">CFZ</text>
<line x1="400.1" y1="297.7147" x2="400.1" y2="296.5406" stroke="#2a2a2a" stroke-width="0.9"/>
<line x1="397.5" y1="296.5406" x2="402.70000000000005" y2="296.5406" stroke="#2a2a2a" stroke-width="0.9"/>
<rect x="396.50" y="297.21" width="7.20" height="2.99" fill="#4b5268"/>
<line x1="400.1" y1="300.2" x2="400.1" y2="303.9" stroke="#222" stroke-width="0.8"/>
<text transform="translate(403.70000000000005 310.3) rotate(-53) scale(0.88 1)" font-size="8.5" text-anchor="end" fill="#0a0a0a">AGI+CFZ</text>
<line x1="390.8" y1="246.7" x2="403.0" y2="246.7" stroke="#3a3a3a" stroke-width="1.15"/>
<line x1="390.8" y1="243.89999999999998" x2="390.8" y2="249.5" stroke="#3a3a3a" stroke-width="1.15"/>
<line x1="403.0" y1="243.89999999999998" x2="403.0" y2="249.5" stroke="#3a3a3a" stroke-width="1.15"/>
<circle cx="396.90" cy="242.00" r="1.1" fill="#2e2e2e"/>
<text transform="translate(429.275 181.4) scale(0.94 1)" font-size="7.9" text-anchor="middle" fill="#0a0a0a">K-562</text>
<line x1="415.55" y1="222.60070000000002" x2="415.55" y2="221.71550000000002" stroke="#2a2a2a" stroke-width="0.9"/>
<line x1="412.95" y1="221.71550000000002" x2="418.15000000000003" y2="221.71550000000002" stroke="#2a2a2a" stroke-width="0.9"/>
<rect x="411.95" y="222.10" width="7.20" height="78.10" fill="#5fa8e2"/>
<line x1="415.55" y1="300.2" x2="415.55" y2="303.9" stroke="#222" stroke-width="0.8"/>
<text transform="translate(419.15000000000003 310.3) rotate(-53) scale(0.88 1)" font-size="8.5" text-anchor="end" fill="#0a0a0a">DMSO</text>
<line x1="424.7" y1="221.2525" x2="424.7" y2="220.3673" stroke="#2a2a2a" stroke-width="0.9"/>
<line x1="422.09999999999997" y1="220.3673" x2="427.3" y2="220.3673" stroke="#2a2a2a" stroke-width="0.9"/>
<rect x="421.10" y="220.75" width="7.20" height="79.45" fill="#5fa8e2"/>
<line x1="424.7" y1="300.2" x2="424.7" y2="303.9" stroke="#222" stroke-width="0.8"/>
<text transform="translate(428.3 310.3) rotate(-53) scale(0.88 1)" font-size="8.5" text-anchor="end" fill="#0a0a0a">AGI-6780</text>
<line x1="433.85" y1="220.5784" x2="433.85" y2="219.6932" stroke="#2a2a2a" stroke-width="0.9"/>
<line x1="431.25" y1="219.6932" x2="436.45000000000005" y2="219.6932" stroke="#2a2a2a" stroke-width="0.9"/>
<rect x="430.25" y="220.08" width="7.20" height="80.12" fill="#5fa8e2"/>
<line x1="433.85" y1="300.2" x2="433.85" y2="303.9" stroke="#222" stroke-width="0.8"/>
<text transform="translate(437.45000000000005 310.3) rotate(-53) scale(0.88 1)" font-size="8.5" text-anchor="end" fill="#0a0a0a">CFZ</text>
<line x1="443.0" y1="225.9712" x2="443.0" y2="218.345" stroke="#2a2a2a" stroke-width="0.9"/>
<line x1="440.4" y1="218.345" x2="445.6" y2="218.345" stroke="#2a2a2a" stroke-width="0.9"/>
<rect x="439.40" y="225.47" width="7.20" height="74.73" fill="#5fa8e2"/>
<line x1="443.0" y1="300.2" x2="443.0" y2="303.9" stroke="#222" stroke-width="0.8"/>
<text transform="translate(446.6 310.3) rotate(-53) scale(0.88 1)" font-size="8.5" text-anchor="end" fill="#0a0a0a">AGI+CFZ</text>
<line x1="431.8" y1="212.7" x2="444.0" y2="212.7" stroke="#3a3a3a" stroke-width="1.15"/>
<line x1="431.8" y1="209.89999999999998" x2="431.8" y2="215.5" stroke="#3a3a3a" stroke-width="1.15"/>
<line x1="444.0" y1="209.89999999999998" x2="444.0" y2="215.5" stroke="#3a3a3a" stroke-width="1.15"/>
<text x="437.9" y="208.79999999999998" font-size="6.5" text-anchor="middle" fill="#222">#</text>
<line x1="64.6" y1="192.9" x2="64.6" y2="300.7" stroke="#222" stroke-width="0.9"/>
<line x1="64.1" y1="300.2" x2="453.5" y2="300.2" stroke="#222" stroke-width="0.9"/>
<line x1="61.099999999999994" y1="300.2" x2="64.6" y2="300.2" stroke="#222" stroke-width="0.9"/>
<text transform="translate(57.99999999999999 303.09999999999997) scale(0.94 1)" font-size="8.2" text-anchor="end" fill="#0a0a0a">0</text>
<line x1="61.099999999999994" y1="276.125" x2="64.6" y2="276.125" stroke="#222" stroke-width="0.9"/>
<text transform="translate(57.99999999999999 279.025) scale(0.94 1)" font-size="8.2" text-anchor="end" fill="#0a0a0a">25</text>
<line x1="61.099999999999994" y1="252.05" x2="64.6" y2="252.05" stroke="#222" stroke-width="0.9"/>
<text transform="translate(57.99999999999999 254.95000000000002) scale(0.94 1)" font-size="8.2" text-anchor="end" fill="#0a0a0a">50</text>
<line x1="61.099999999999994" y1="227.975" x2="64.6" y2="227.975" stroke="#222" stroke-width="0.9"/>
<text transform="translate(57.99999999999999 230.875) scale(0.94 1)" font-size="8.2" text-anchor="end" fill="#0a0a0a">75</text>
<line x1="61.099999999999994" y1="203.9" x2="64.6" y2="203.9" stroke="#222" stroke-width="0.9"/>
<text transform="translate(57.99999999999999 206.8) scale(0.94 1)" font-size="8.2" text-anchor="end" fill="#0a0a0a">100</text>
<text transform="translate(38.2 247.2) rotate(-90) scale(0.9 1)" font-size="10" text-anchor="middle" fill="#0a0a0a">% TMRM<tspan font-size="6.80" dy="-3.6">+</tspan></text>
<text transform="translate(326.6 368.8) scale(0.8 1)" font-size="11.7" text-anchor="start" fill="#0a0a0a" stroke="#0a0a0a" stroke-width="0.25">F</text>
<text x="425.4" y="388.6" font-size="9.7" text-anchor="middle" fill="#0a0a0a">24hpt</text>
<rect x="448.50" y="383.70" width="9.20" height="4.90" fill="#a5002a"/>
<text x="461.2" y="388.59999999999997" font-size="7.4" text-anchor="start" fill="#0a0a0a">KMM-1</text>
<rect x="448.50" y="392.40" width="9.20" height="4.90" fill="#9086c5"/>
<text x="461.2" y="397.5" font-size="7.4" text-anchor="start" fill="#0a0a0a">NCI-H929</text>
<rect x="372.75" y="401.43" width="7.50" height="70.37" fill="#a5002a"/>
<line x1="376.5" y1="471.8" x2="376.5" y2="475.3" stroke="#222" stroke-width="0.8"/>
<text transform="translate(380.7 483.0) rotate(-53) scale(0.88 1)" font-size="8.5" text-anchor="end" fill="#0a0a0a">UT</text>
<rect x="382.75" y="404.42" width="7.50" height="67.38" fill="#a5002a"/>
<line x1="386.5" y1="471.8" x2="386.5" y2="475.3" stroke="#222" stroke-width="0.8"/>
<text transform="translate(390.7 483.0) rotate(-53) scale(0.88 1)" font-size="8.5" text-anchor="end" fill="#0a0a0a">DMSO</text>
<rect x="392.75" y="404.42" width="7.50" height="67.38" fill="#a5002a"/>
<line x1="396.5" y1="471.8" x2="396.5" y2="475.3" stroke="#222" stroke-width="0.8"/>
<text transform="translate(400.7 483.0) rotate(-53) scale(0.88 1)" font-size="8.5" text-anchor="end" fill="#0a0a0a">AGI-6780</text>
<rect x="402.75" y="405.88" width="7.50" height="65.92" fill="#a5002a"/>
<line x1="406.5" y1="471.8" x2="406.5" y2="475.3" stroke="#222" stroke-width="0.8"/>
<text transform="translate(410.7 483.0) rotate(-53) scale(0.88 1)" font-size="8.5" text-anchor="end" fill="#0a0a0a">CFZ</text>
<rect x="412.75" y="413.40" width="7.50" height="58.40" fill="#a5002a"/>
<line x1="416.5" y1="471.8" x2="416.5" y2="475.3" stroke="#222" stroke-width="0.8"/>
<text transform="translate(420.7 483.0) rotate(-53) scale(0.88 1)" font-size="8.5" text-anchor="end" fill="#0a0a0a">CFZ+AGI</text>
<rect x="430.25" y="404.42" width="7.50" height="67.38" fill="#9086c5"/>
<line x1="434.0" y1="471.8" x2="434.0" y2="475.3" stroke="#222" stroke-width="0.8"/>
<text transform="translate(438.2 483.0) rotate(-53) scale(0.88 1)" font-size="8.5" text-anchor="end" fill="#0a0a0a">UT</text>
<rect x="440.25" y="405.88" width="7.50" height="65.92" fill="#9086c5"/>
<line x1="444.0" y1="471.8" x2="444.0" y2="475.3" stroke="#222" stroke-width="0.8"/>
<text transform="translate(448.2 483.0) rotate(-53) scale(0.88 1)" font-size="8.5" text-anchor="end" fill="#0a0a0a">DMSO</text>
<rect x="450.25" y="409.38" width="7.50" height="62.41" fill="#9086c5"/>
<line x1="454.0" y1="471.8" x2="454.0" y2="475.3" stroke="#222" stroke-width="0.8"/>
<text transform="translate(458.2 483.0) rotate(-53) scale(0.88 1)" font-size="8.5" text-anchor="end" fill="#0a0a0a">AGI-6780</text>
<rect x="460.25" y="405.15" width="7.50" height="66.65" fill="#9086c5"/>
<line x1="464.0" y1="471.8" x2="464.0" y2="475.3" stroke="#222" stroke-width="0.8"/>
<text transform="translate(468.2 483.0) rotate(-53) scale(0.88 1)" font-size="8.5" text-anchor="end" fill="#0a0a0a">CFZ</text>
<rect x="470.25" y="407.41" width="7.50" height="64.39" fill="#9086c5"/>
<line x1="474.0" y1="471.8" x2="474.0" y2="475.3" stroke="#222" stroke-width="0.8"/>
<text transform="translate(478.2 483.0) rotate(-53) scale(0.88 1)" font-size="8.5" text-anchor="end" fill="#0a0a0a">CFZ+AGI</text>
<line x1="368.2" y1="394.2" x2="368.2" y2="472.40000000000003" stroke="#161616" stroke-width="1.2"/>
<line x1="367.59999999999997" y1="471.8" x2="483.75" y2="471.8" stroke="#161616" stroke-width="1.2"/>
<line x1="364.8" y1="471.8" x2="368.2" y2="471.8" stroke="#222" stroke-width="1.0"/>
<text transform="translate(361.9 474.7) scale(0.94 1)" font-size="8.2" text-anchor="end" fill="#0a0a0a">0</text>
<line x1="364.8" y1="453.55" x2="368.2" y2="453.55" stroke="#222" stroke-width="1.0"/>
<text transform="translate(361.9 456.45) scale(0.94 1)" font-size="8.2" text-anchor="end" fill="#0a0a0a">25</text>
<line x1="364.8" y1="435.3" x2="368.2" y2="435.3" stroke="#222" stroke-width="1.0"/>
<text transform="translate(361.9 438.2) scale(0.94 1)" font-size="8.2" text-anchor="end" fill="#0a0a0a">50</text>
<line x1="364.8" y1="417.05" x2="368.2" y2="417.05" stroke="#222" stroke-width="1.0"/>
<text transform="translate(361.9 419.95) scale(0.94 1)" font-size="8.2" text-anchor="end" fill="#0a0a0a">75</text>
<line x1="364.8" y1="398.8" x2="368.2" y2="398.8" stroke="#222" stroke-width="1.0"/>
<text transform="translate(361.9 401.7) scale(0.94 1)" font-size="8.2" text-anchor="end" fill="#0a0a0a">100</text>
<text transform="translate(341.6 434.5) rotate(-90) scale(0.9 1)" font-size="10" text-anchor="middle" fill="#0a0a0a">% TMRM<tspan font-size="6.80" dy="-3.6">+</tspan></text>
<text transform="translate(326.6 542.0) scale(0.83 1)" font-size="11.7" text-anchor="start" fill="#0a0a0a" stroke="#0a0a0a" stroke-width="0.25">G</text>
<text x="425.4" y="565.2" font-size="9.7" text-anchor="middle" fill="#0a0a0a">72hpt</text>
<rect x="448.50" y="560.20" width="9.20" height="4.90" fill="#a5002a"/>
<text x="461.2" y="565.1" font-size="7.4" text-anchor="start" fill="#0a0a0a">KMM-1</text>
<rect x="448.50" y="568.90" width="9.20" height="4.90" fill="#9086c5"/>
<text x="461.2" y="574.0" font-size="7.4" text-anchor="start" fill="#0a0a0a">NCI-H929</text>
<rect x="373.00" y="579.52" width="7.75" height="68.88" fill="#a5002a"/>
<line x1="376.875" y1="648.4" x2="376.875" y2="651.9" stroke="#222" stroke-width="0.8"/>
<text transform="translate(381.075 659.6) rotate(-53) scale(0.88 1)" font-size="8.5" text-anchor="end" fill="#0a0a0a">UT</text>
<rect x="383.68" y="579.52" width="7.75" height="68.88" fill="#a5002a"/>
<line x1="387.555" y1="648.4" x2="387.555" y2="651.9" stroke="#222" stroke-width="0.8"/>
<text transform="translate(391.755 659.6) rotate(-53) scale(0.88 1)" font-size="8.5" text-anchor="end" fill="#0a0a0a">DMSO</text>
<rect x="394.36" y="581.25" width="7.75" height="67.15" fill="#a5002a"/>
<line x1="398.235" y1="648.4" x2="398.235" y2="651.9" stroke="#222" stroke-width="0.8"/>
<text transform="translate(402.435 659.6) rotate(-53) scale(0.88 1)" font-size="8.5" text-anchor="end" fill="#0a0a0a">AGI-6780</text>
<rect x="405.04" y="589.44" width="7.75" height="58.96" fill="#a5002a"/>
<line x1="408.915" y1="648.4" x2="408.915" y2="651.9" stroke="#222" stroke-width="0.8"/>
<text transform="translate(413.115 659.6) rotate(-53) scale(0.88 1)" font-size="8.5" text-anchor="end" fill="#0a0a0a">CFZ</text>
<rect x="415.72" y="629.92" width="7.75" height="18.48" fill="#a5002a"/>
<line x1="419.595" y1="648.4" x2="419.595" y2="651.9" stroke="#222" stroke-width="0.8"/>
<text transform="translate(423.795 659.6) rotate(-53) scale(0.88 1)" font-size="8.5" text-anchor="end" fill="#0a0a0a">CFZ+AGI</text>
<rect x="433.50" y="579.52" width="7.75" height="68.88" fill="#9086c5"/>
<line x1="437.375" y1="648.4" x2="437.375" y2="651.9" stroke="#222" stroke-width="0.8"/>
<text transform="translate(441.575 659.6) rotate(-53) scale(0.88 1)" font-size="8.5" text-anchor="end" fill="#0a0a0a">UT</text>
<rect x="444.18" y="579.52" width="7.75" height="68.88" fill="#9086c5"/>
<line x1="448.055" y1="648.4" x2="448.055" y2="651.9" stroke="#222" stroke-width="0.8"/>
<text transform="translate(452.255 659.6) rotate(-53) scale(0.88 1)" font-size="8.5" text-anchor="end" fill="#0a0a0a">DMSO</text>
<rect x="454.86" y="582.76" width="7.75" height="65.64" fill="#9086c5"/>
<line x1="458.735" y1="648.4" x2="458.735" y2="651.9" stroke="#222" stroke-width="0.8"/>
<text transform="translate(462.935 659.6) rotate(-53) scale(0.88 1)" font-size="8.5" text-anchor="end" fill="#0a0a0a">AGI-6780</text>
<rect x="465.54" y="584.77" width="7.75" height="63.63" fill="#9086c5"/>
<line x1="469.415" y1="648.4" x2="469.415" y2="651.9" stroke="#222" stroke-width="0.8"/>
<text transform="translate(473.615 659.6) rotate(-53) scale(0.88 1)" font-size="8.5" text-anchor="end" fill="#0a0a0a">CFZ</text>
<rect x="476.22" y="607.42" width="7.75" height="40.98" fill="#9086c5"/>
<line x1="480.095" y1="648.4" x2="480.095" y2="651.9" stroke="#222" stroke-width="0.8"/>
<text transform="translate(484.295 659.6) rotate(-53) scale(0.88 1)" font-size="8.5" text-anchor="end" fill="#0a0a0a">CFZ+AGI</text>
<line x1="368.5" y1="572" x2="368.5" y2="649.0" stroke="#161616" stroke-width="1.2"/>
<line x1="367.9" y1="648.4" x2="488.75" y2="648.4" stroke="#161616" stroke-width="1.2"/>
<line x1="365.1" y1="648.4" x2="368.5" y2="648.4" stroke="#222" stroke-width="1.0"/>
<text transform="translate(362.2 651.3) scale(0.94 1)" font-size="8.2" text-anchor="end" fill="#0a0a0a">0</text>
<line x1="365.1" y1="630.425" x2="368.5" y2="630.425" stroke="#222" stroke-width="1.0"/>
<text transform="translate(362.2 633.3249999999999) scale(0.94 1)" font-size="8.2" text-anchor="end" fill="#0a0a0a">25</text>
<line x1="365.1" y1="612.45" x2="368.5" y2="612.45" stroke="#222" stroke-width="1.0"/>
<text transform="translate(362.2 615.35) scale(0.94 1)" font-size="8.2" text-anchor="end" fill="#0a0a0a">50</text>
<line x1="365.1" y1="594.475" x2="368.5" y2="594.475" stroke="#222" stroke-width="1.0"/>
<text transform="translate(362.2 597.375) scale(0.94 1)" font-size="8.2" text-anchor="end" fill="#0a0a0a">75</text>
<line x1="365.1" y1="576.5" x2="368.5" y2="576.5" stroke="#222" stroke-width="1.0"/>
<text transform="translate(362.2 579.4) scale(0.94 1)" font-size="8.2" text-anchor="end" fill="#0a0a0a">100</text>
<text transform="translate(341.6 611) rotate(-90) scale(0.9 1)" font-size="10" text-anchor="middle" fill="#0a0a0a">% TMRM<tspan font-size="6.80" dy="-3.6">+</tspan></text>
<text transform="translate(7.6 368.7) scale(0.73 1)" font-size="11.7" text-anchor="start" fill="#0a0a0a" stroke="#0a0a0a" stroke-width="0.25">E</text>
<text transform="translate(86.8 370.2) scale(0.93 1)" font-size="8.2" text-anchor="middle" fill="#0a0a0a">KMM-1</text>
<line x1="35.3" y1="374.8" x2="139.3" y2="374.8" stroke="#111" stroke-width="1.1"/>
<text transform="translate(197.3 370.2) scale(0.93 1)" font-size="8.2" text-anchor="middle" fill="#0a0a0a">NCI-H929</text>
<line x1="148.5" y1="374.8" x2="246" y2="374.8" stroke="#111" stroke-width="1.1"/>
<text transform="translate(52.6 418.5) rotate(-90) scale(0.88 1)" font-size="8.6" text-anchor="start" fill="#0a0a0a">UT</text>
<text transform="translate(72.1 418.5) rotate(-90) scale(0.88 1)" font-size="8.6" text-anchor="start" fill="#0a0a0a">DMSO</text>
<text transform="translate(89.89999999999999 418.5) rotate(-90) scale(0.88 1)" font-size="8.6" text-anchor="start" fill="#0a0a0a">AGI-6780</text>
<text transform="translate(110.1 418.5) rotate(-90) scale(0.88 1)" font-size="8.6" text-anchor="start" fill="#0a0a0a">CFZ</text>
<text transform="translate(129.7 418.5) rotate(-90) scale(0.88 1)" font-size="8.6" text-anchor="start" fill="#0a0a0a">CFZ+AGI</text>
<text transform="translate(156.1 418.5) rotate(-90) scale(0.88 1)" font-size="8.6" text-anchor="start" fill="#0a0a0a">UT</text>
<text transform="translate(176.1 418.5) rotate(-90) scale(0.88 1)" font-size="8.6" text-anchor="start" fill="#0a0a0a">DMSO</text>
<text transform="translate(196.6 418.5) rotate(-90) scale(0.88 1)" font-size="8.6" text-anchor="start" fill="#0a0a0a">AGI-6780</text>
<text transform="translate(216.1 418.5) rotate(-90) scale(0.88 1)" font-size="8.6" text-anchor="start" fill="#0a0a0a">CFZ</text>
<text transform="translate(238.1 418.5) rotate(-90) scale(0.88 1)" font-size="8.6" text-anchor="start" fill="#0a0a0a">CFZ+AGI</text>
<defs><filter id="b1" x="-30%" y="-80%" width="160%" height="260%"><feGaussianBlur stdDeviation="1.25"/></filter><filter id="b2" x="-30%" y="-80%" width="160%" height="260%"><feGaussianBlur stdDeviation="1.8"/></filter><filter id="b3" x="-30%" y="-80%" width="160%" height="260%"><feGaussianBlur stdDeviation="2.6"/></filter></defs>
<clipPath id="cl0"><rect x="35.8" y="423.0" width="105.60" height="18.50"/></clipPath>
<g clip-path="url(#cl0)">
<rect x="35.80" y="423.00" width="105.60" height="18.50" fill="#919191"/>
<rect x="39.3" y="429.4" width="16.0" height="6.0" rx="2.7" fill="#101010" opacity="0.8" filter="url(#b1)"/>
<rect x="59.1" y="429.2" width="17.6" height="7.2" rx="3.2" fill="#101010" opacity="0.9" filter="url(#b1)"/>
<rect x="79.9" y="429.5" width="16.8" height="6.2" rx="2.8" fill="#101010" opacity="0.85" filter="url(#b1)"/>
<rect x="99.2" y="428.9" width="18.0" height="8.4" rx="3.8" fill="#101010" opacity="0.95" filter="url(#b1)"/>
<rect x="120.4" y="429.8" width="16.8" height="5.8" rx="2.6" fill="#101010" opacity="0.75" filter="url(#b1)"/>
</g>
<rect x="36.3" y="423.5" width="104.60" height="17.50" fill="none" stroke="#0c0c0c" stroke-width="1.3"/>
<clipPath id="cr0"><rect x="145.0" y="423.0" width="105.80" height="18.50"/></clipPath>
<g clip-path="url(#cr0)">
<rect x="145.00" y="423.00" width="105.80" height="18.50" fill="#646464"/>
<rect x="146.7" y="429.9" width="19.2" height="6.8" rx="3.1" fill="#101010" opacity="0.7" filter="url(#b1)"/>
<rect x="167.4" y="431.2" width="19.2" height="6.8" rx="3.1" fill="#101010" opacity="0.75" filter="url(#b1)"/>
<rect x="187.9" y="431.2" width="19.2" height="6.8" rx="3.1" fill="#101010" opacity="0.75" filter="url(#b1)"/>
<rect x="208.4" y="430.2" width="19.2" height="6.8" rx="3.1" fill="#101010" opacity="0.75" filter="url(#b1)"/>
<rect x="229.6" y="428.4" width="18.8" height="6.4" rx="2.9" fill="#101010" opacity="0.75" filter="url(#b1)"/>
</g>
<rect x="145.5" y="423.5" width="104.80" height="17.50" fill="none" stroke="#0c0c0c" stroke-width="1.3"/>
<text transform="translate(257.6 433.8) scale(0.92 1)" font-size="8.0" text-anchor="start" fill="#0a0a0a">Cyclin E</text>
<clipPath id="cl1"><rect x="35.8" y="444.3" width="105.60" height="18.90"/></clipPath>
<g clip-path="url(#cl1)">
<rect x="35.80" y="444.30" width="105.60" height="18.90" fill="#949494"/>
<rect x="38.9" y="450.8" width="16.8" height="4.6" rx="2.1" fill="#101010" opacity="0.85" filter="url(#b1)"/>
<rect x="59.3" y="451.6" width="17.2" height="5.0" rx="2.2" fill="#101010" opacity="0.88" filter="url(#b1)"/>
<rect x="79.7" y="451.6" width="17.2" height="5.0" rx="2.2" fill="#101010" opacity="0.88" filter="url(#b1)"/>
<rect x="100.2" y="452.1" width="16.0" height="3.8" rx="1.7" fill="#101010" opacity="0.75" filter="url(#b1)"/>
<rect x="121.2" y="452.1" width="15.2" height="3.2" rx="1.4" fill="#101010" opacity="0.45" filter="url(#b1)"/>
</g>
<rect x="36.3" y="444.8" width="104.60" height="17.90" fill="none" stroke="#0c0c0c" stroke-width="1.3"/>
<clipPath id="cr1"><rect x="145.0" y="444.3" width="105.80" height="18.90"/></clipPath>
<g clip-path="url(#cr1)">
<rect x="145.00" y="444.30" width="105.80" height="18.90" fill="#707070"/>
<rect x="146.7" y="453.8" width="19.2" height="5.2" rx="2.3" fill="#101010" opacity="0.72" filter="url(#b1)"/>
<rect x="167.4" y="454.2" width="19.2" height="5.2" rx="2.3" fill="#101010" opacity="0.72" filter="url(#b1)"/>
<rect x="187.9" y="454.6" width="19.2" height="5.0" rx="2.2" fill="#101010" opacity="0.72" filter="url(#b1)"/>
<rect x="208.4" y="453.9" width="19.2" height="5.4" rx="2.4" fill="#101010" opacity="0.76" filter="url(#b1)"/>
<rect x="230.0" y="454.4" width="18.0" height="4.4" rx="2.0" fill="#101010" opacity="0.66" filter="url(#b1)"/>
</g>
<rect x="145.5" y="444.8" width="104.80" height="17.90" fill="none" stroke="#0c0c0c" stroke-width="1.3"/>
<text transform="translate(257.6 456.1) scale(0.92 1)" font-size="8.0" text-anchor="start" fill="#0a0a0a">Cyclin A</text>
<clipPath id="cl2"><rect x="35.8" y="465.3" width="105.60" height="18.70"/></clipPath>
<g clip-path="url(#cl2)">
<rect x="35.80" y="465.30" width="105.60" height="18.70" fill="#969696"/>
<rect x="39.1" y="471.8" width="16.4" height="4.4" rx="2.0" fill="#101010" opacity="0.72" filter="url(#b1)"/>
<rect x="59.9" y="472.8" width="16.0" height="4.4" rx="2.0" fill="#101010" opacity="0.72" filter="url(#b1)"/>
<rect x="79.9" y="472.3" width="16.8" height="5.0" rx="2.2" fill="#101010" opacity="0.8" filter="url(#b1)"/>
<rect x="100.6" y="472.9" width="15.2" height="3.8" rx="1.7" fill="#101010" opacity="0.55" filter="url(#b1)"/>
<rect x="120.8" y="472.8" width="16.0" height="4.0" rx="1.8" fill="#101010" opacity="0.48" filter="url(#b1)"/>
</g>
<rect x="36.3" y="465.8" width="104.60" height="17.70" fill="none" stroke="#0c0c0c" stroke-width="1.3"/>
<clipPath id="cr2"><rect x="145.0" y="465.3" width="105.80" height="18.70"/></clipPath>
<g clip-path="url(#cr2)">
<rect x="145.00" y="465.30" width="105.80" height="18.70" fill="#7a7a7a"/>
<rect x="146.9" y="473.1" width="18.8" height="4.8" rx="2.2" fill="#101010" opacity="0.55" filter="url(#b1)"/>
<rect x="168.0" y="473.8" width="18.0" height="4.8" rx="2.2" fill="#101010" opacity="0.5" filter="url(#b1)"/>
<rect x="188.5" y="474.1" width="18.0" height="4.8" rx="2.2" fill="#101010" opacity="0.48" filter="url(#b1)"/>
<rect x="208.6" y="473.5" width="18.8" height="5.2" rx="2.3" fill="#101010" opacity="0.6" filter="url(#b1)"/>
<rect x="230.4" y="473.6" width="17.2" height="4.4" rx="2.0" fill="#101010" opacity="0.46" filter="url(#b1)"/>
</g>
<rect x="145.5" y="465.8" width="104.80" height="17.70" fill="none" stroke="#0c0c0c" stroke-width="1.3"/>
<text transform="translate(257.6 478.3) scale(0.92 1)" font-size="8.0" text-anchor="start" fill="#0a0a0a">Cyclin B1</text>
<clipPath id="cl3"><rect x="35.8" y="486.3" width="105.60" height="18.70"/></clipPath>
<g clip-path="url(#cl3)">
<rect x="35.80" y="486.30" width="105.60" height="18.70" fill="#929292"/>
<rect x="39.3" y="492.0" width="16.0" height="5.2" rx="2.3" fill="#101010" opacity="0.5" filter="url(#b2)"/>
<rect x="60.9" y="492.8" width="14.0" height="4.4" rx="2.0" fill="#101010" opacity="0.22" filter="url(#b2)"/>
<rect x="80.3" y="491.6" width="16.0" height="6.0" rx="2.7" fill="#101010" opacity="0.6" filter="url(#b2)"/>
<rect x="98.2" y="490.3" width="20.0" height="11.2" rx="5.0" fill="#101010" opacity="0.95" filter="url(#b2)"/>
<rect x="117.3" y="487.8" width="23.0" height="17.0" rx="7.7" fill="#101010" opacity="1" filter="url(#b2)"/>
<rect x="119.8" y="489.8" width="18.0" height="13.0" rx="5.9" fill="#101010" opacity="0.9" filter="url(#b1)"/>
<rect x="98.5" y="488.6" width="40.0" height="18.0" rx="8.1" fill="#101010" opacity="0.25" filter="url(#b3)"/>
</g>
<rect x="36.3" y="486.8" width="104.60" height="17.70" fill="none" stroke="#0c0c0c" stroke-width="1.3"/>
<clipPath id="cr3"><rect x="145.0" y="486.3" width="105.80" height="18.70"/></clipPath>
<g clip-path="url(#cr3)">
<rect x="145.00" y="486.30" width="105.80" height="18.70" fill="#747474"/>
<rect x="148.8" y="492.4" width="15.0" height="4.4" rx="2.0" fill="#101010" opacity="0.15" filter="url(#b2)"/>
<rect x="172.0" y="494.3" width="10.0" height="3.6" rx="1.6" fill="#101010" opacity="0.08" filter="url(#b2)"/>
<rect x="188.5" y="494.8" width="18.0" height="5.6" rx="2.5" fill="#101010" opacity="0.5" filter="url(#b2)"/>
<rect x="209.0" y="494.2" width="18.0" height="5.2" rx="2.3" fill="#101010" opacity="0.38" filter="url(#b2)"/>
<rect x="228.5" y="490.4" width="21.0" height="9.6" rx="4.3" fill="#101010" opacity="0.85" filter="url(#b2)"/>
<rect x="227.5" y="488.2" width="23.0" height="14.0" rx="6.3" fill="#101010" opacity="0.25" filter="url(#b3)"/>
</g>
<rect x="145.5" y="486.8" width="104.80" height="17.70" fill="none" stroke="#0c0c0c" stroke-width="1.3"/>
<text transform="translate(257.6 498.1) scale(0.92 1)" font-size="8.0" text-anchor="start" fill="#0a0a0a">p21</text>
<clipPath id="cl4"><rect x="35.8" y="507.3" width="105.60" height="18.90"/></clipPath>
<g clip-path="url(#cl4)">
<rect x="35.80" y="507.30" width="105.60" height="18.90" fill="#8e8e8e"/>
<rect x="39.1" y="512.2" width="16.4" height="6.2" rx="2.8" fill="#101010" opacity="0.88" filter="url(#b1)"/>
<rect x="59.9" y="514.4" width="16.0" height="5.4" rx="2.4" fill="#101010" opacity="0.78" filter="url(#b1)"/>
<rect x="79.7" y="514.6" width="17.2" height="6.0" rx="2.7" fill="#101010" opacity="0.85" filter="url(#b1)"/>
<rect x="98.6" y="513.1" width="19.2" height="8.8" rx="4.0" fill="#101010" opacity="0.95" filter="url(#b1)"/>
<rect x="119.2" y="512.9" width="19.2" height="9.2" rx="4.1" fill="#101010" opacity="0.95" filter="url(#b1)"/>
</g>
<rect x="36.3" y="507.8" width="104.60" height="17.90" fill="none" stroke="#0c0c0c" stroke-width="1.3"/>
<clipPath id="cr4"><rect x="145.0" y="507.3" width="105.80" height="18.90"/></clipPath>
<g clip-path="url(#cr4)">
<rect x="145.00" y="507.30" width="105.80" height="18.90" fill="#636363"/>
<rect x="148.3" y="514.9" width="16.0" height="4.4" rx="2.0" fill="#101010" opacity="0.28" filter="url(#b2)"/>
<rect x="169.0" y="514.9" width="16.0" height="4.6" rx="2.1" fill="#101010" opacity="0.34" filter="url(#b2)"/>
<rect x="188.9" y="515.6" width="17.2" height="5.0" rx="2.2" fill="#101010" opacity="0.55" filter="url(#b1)"/>
<rect x="208.8" y="514.6" width="18.4" height="5.6" rx="2.5" fill="#101010" opacity="0.66" filter="url(#b1)"/>
<rect x="229.8" y="513.5" width="18.4" height="6.0" rx="2.7" fill="#101010" opacity="0.74" filter="url(#b1)"/>
</g>
<rect x="145.5" y="507.8" width="104.80" height="17.90" fill="none" stroke="#0c0c0c" stroke-width="1.3"/>
<text transform="translate(257.6 519.8) scale(0.92 1)" font-size="8.0" text-anchor="start" fill="#0a0a0a">p27</text>
<clipPath id="cl5"><rect x="35.8" y="528.5" width="105.60" height="27.00"/></clipPath>
<g clip-path="url(#cl5)">
<rect x="35.80" y="528.50" width="105.60" height="27.00" fill="#838383"/>
<rect x="37.5" y="530.2" width="19.6" height="8.4" rx="3.8" fill="#101010" opacity="0.95" filter="url(#b1)"/>
<rect x="58.1" y="530.9" width="19.6" height="7.8" rx="3.5" fill="#101010" opacity="0.92" filter="url(#b1)"/>
<rect x="78.5" y="531.3" width="19.6" height="7.8" rx="3.5" fill="#101010" opacity="0.92" filter="url(#b1)"/>
<rect x="98.4" y="532.1" width="19.6" height="7.4" rx="3.3" fill="#101010" opacity="0.9" filter="url(#b1)"/>
<rect x="119.0" y="531.9" width="19.6" height="7.8" rx="3.5" fill="#101010" opacity="0.92" filter="url(#b1)"/>
<rect x="38.3" y="537.0" width="18.0" height="10.0" rx="4.5" fill="#101010" opacity="0.32" filter="url(#b3)"/>
<rect x="58.9" y="537.0" width="18.0" height="9.0" rx="4.0" fill="#101010" opacity="0.25" filter="url(#b3)"/>
<rect x="79.3" y="537.0" width="18.0" height="9.0" rx="4.0" fill="#101010" opacity="0.25" filter="url(#b3)"/>
<rect x="99.2" y="537.5" width="18.0" height="10.0" rx="4.5" fill="#101010" opacity="0.4" filter="url(#b3)"/>
<rect x="119.8" y="537.5" width="18.0" height="10.0" rx="4.5" fill="#101010" opacity="0.45" filter="url(#b3)"/>
<rect x="99.8" y="547.9" width="16.8" height="3.8" rx="1.7" fill="#101010" opacity="0.52" filter="url(#b1)"/>
<rect x="119.8" y="547.1" width="18.0" height="5.0" rx="2.2" fill="#101010" opacity="0.8" filter="url(#b1)"/>
</g>
<rect x="36.3" y="529.0" width="104.60" height="26.00" fill="none" stroke="#0c0c0c" stroke-width="1.3"/>
<clipPath id="cr5"><rect x="145.0" y="528.5" width="105.80" height="27.00"/></clipPath>
<g clip-path="url(#cr5)">
<rect x="145.00" y="528.50" width="105.80" height="27.00" fill="#787878"/>
<rect x="146.5" y="536.4" width="19.6" height="4.8" rx="2.2" fill="#101010" opacity="0.78" filter="url(#b1)"/>
<rect x="167.2" y="537.0" width="19.6" height="4.8" rx="2.2" fill="#101010" opacity="0.78" filter="url(#b1)"/>
<rect x="187.7" y="537.4" width="19.6" height="4.8" rx="2.2" fill="#101010" opacity="0.78" filter="url(#b1)"/>
<rect x="208.2" y="537.0" width="19.6" height="4.8" rx="2.2" fill="#101010" opacity="0.78" filter="url(#b1)"/>
<rect x="229.2" y="536.4" width="19.6" height="4.8" rx="2.2" fill="#101010" opacity="0.78" filter="url(#b1)"/>
<rect x="147.9" y="540.0" width="16.8" height="14.0" rx="6.3" fill="#101010" opacity="0.14" filter="url(#b2)"/>
<rect x="168.6" y="540.0" width="16.8" height="14.0" rx="6.3" fill="#101010" opacity="0.14" filter="url(#b2)"/>
<rect x="189.1" y="540.0" width="16.8" height="14.0" rx="6.3" fill="#101010" opacity="0.14" filter="url(#b2)"/>
<rect x="209.6" y="540.0" width="16.8" height="14.0" rx="6.3" fill="#101010" opacity="0.14" filter="url(#b2)"/>
<rect x="230.6" y="540.0" width="16.8" height="14.0" rx="6.3" fill="#101010" opacity="0.16" filter="url(#b2)"/>
<rect x="231.0" y="549.0" width="16.0" height="4.0" rx="1.8" fill="#101010" opacity="0.28" filter="url(#b2)"/>
</g>
<rect x="145.5" y="529.0" width="104.80" height="26.00" fill="none" stroke="#0c0c0c" stroke-width="1.3"/>
<text transform="translate(257.6 548.1999999999999) scale(0.92 1)" font-size="8.0" text-anchor="start" fill="#0a0a0a">PARP-1</text>
<clipPath id="cl6"><rect x="35.8" y="558.3" width="105.60" height="18.20"/></clipPath>
<g clip-path="url(#cl6)">
<rect x="35.80" y="558.30" width="105.60" height="18.20" fill="#8f8f8f"/>
<rect x="104.6" y="566.4" width="12.8" height="3.2" rx="1.4" fill="#101010" opacity="0.78" filter="url(#b1)"/>
<rect x="121.7" y="564.3" width="17.6" height="6.2" rx="2.8" fill="#101010" opacity="0.95" filter="url(#b1)"/>
</g>
<rect x="36.3" y="558.8" width="104.60" height="17.20" fill="none" stroke="#0c0c0c" stroke-width="1.3"/>
<clipPath id="cr6"><rect x="145.0" y="558.3" width="105.80" height="18.20"/></clipPath>
<g clip-path="url(#cr6)">
<rect x="145.00" y="558.30" width="105.80" height="18.20" fill="#6c6c6c"/>
<rect x="212.0" y="569.7" width="15.0" height="2.6" rx="1.2" fill="#101010" opacity="0.22" filter="url(#b1)"/>
<rect x="231.2" y="568.3" width="17.6" height="4.6" rx="2.1" fill="#101010" opacity="0.72" filter="url(#b1)"/>
</g>
<rect x="145.5" y="558.8" width="104.80" height="17.20" fill="none" stroke="#0c0c0c" stroke-width="1.3"/>
<text transform="translate(257.6 570.0999999999999) scale(0.92 1)" font-size="8.0" text-anchor="start" fill="#0a0a0a">Cl. PARP-1</text>
<clipPath id="cl7"><rect x="35.8" y="579.3" width="105.60" height="18.20"/></clipPath>
<g clip-path="url(#cl7)">
<rect x="35.80" y="579.30" width="105.60" height="18.20" fill="#8f8f8f"/>
<rect x="102.9" y="588.2" width="13.2" height="3.0" rx="1.4" fill="#101010" opacity="0.75" filter="url(#b1)"/>
<rect x="121.2" y="585.9" width="17.6" height="6.2" rx="2.8" fill="#101010" opacity="0.95" filter="url(#b1)"/>
</g>
<rect x="36.3" y="579.8" width="104.60" height="17.20" fill="none" stroke="#0c0c0c" stroke-width="1.3"/>
<clipPath id="cr7"><rect x="145.0" y="579.3" width="105.80" height="18.20"/></clipPath>
<g clip-path="url(#cr7)">
<rect x="145.00" y="579.30" width="105.80" height="18.20" fill="#696969"/>
<rect x="210.0" y="588.3" width="15.0" height="2.6" rx="1.2" fill="#101010" opacity="0.18" filter="url(#b1)"/>
<rect x="230.0" y="586.0" width="18.0" height="5.6" rx="2.5" fill="#101010" opacity="0.82" filter="url(#b1)"/>
</g>
<rect x="145.5" y="579.8" width="104.80" height="17.20" fill="none" stroke="#0c0c0c" stroke-width="1.3"/>
<text transform="translate(257.6 592.3) scale(0.92 1)" font-size="8.0" text-anchor="start" fill="#0a0a0a">Cl. Caspase 9</text>
<clipPath id="cl8"><rect x="35.8" y="600.3" width="105.60" height="18.40"/></clipPath>
<g clip-path="url(#cl8)">
<rect x="35.80" y="600.30" width="105.60" height="18.40" fill="#8c8c8c"/>
<rect x="103.5" y="608.5" width="13.0" height="4.4" rx="2.0" fill="#101010" opacity="0.28" filter="url(#b2)"/>
<rect x="121.0" y="606.3" width="18.0" height="8.0" rx="3.6" fill="#101010" opacity="0.85" filter="url(#b2)"/>
<rect x="122.5" y="606.9" width="16.0" height="4.0" rx="1.8" fill="#101010" opacity="0.45" filter="url(#b1)"/>
</g>
<rect x="36.3" y="600.8" width="104.60" height="17.40" fill="none" stroke="#0c0c0c" stroke-width="1.3"/>
<clipPath id="cr8"><rect x="145.0" y="600.3" width="105.80" height="18.40"/></clipPath>
<g clip-path="url(#cr8)">
<rect x="145.00" y="600.30" width="105.80" height="18.40" fill="#474747"/>
<rect x="190.5" y="607.5" width="14.0" height="6.0" rx="2.7" fill="#101010" opacity="0.18" filter="url(#b2)"/>
<rect x="209.0" y="607.7" width="18.0" height="7.2" rx="3.2" fill="#101010" opacity="0.5" filter="url(#b2)"/>
<rect x="228.0" y="605.3" width="22.0" height="10.0" rx="4.5" fill="#101010" opacity="0.85" filter="url(#b2)"/>
<rect x="144.0" y="611.5" width="56.0" height="8.0" rx="3.6" fill="#101010" opacity="0.25" filter="url(#b3)"/>
</g>
<rect x="145.5" y="600.8" width="104.80" height="17.40" fill="none" stroke="#0c0c0c" stroke-width="1.3"/>
<text transform="translate(257.6 613.5999999999999) scale(0.92 1)" font-size="8.0" text-anchor="start" fill="#0a0a0a">Cl. Caspase 7</text>
<clipPath id="cl9"><rect x="35.8" y="621.0" width="105.60" height="19.00"/></clipPath>
<g clip-path="url(#cl9)">
<rect x="35.80" y="621.00" width="105.60" height="19.00" fill="#909090"/>
<rect x="100.5" y="631.8" width="16.0" height="4.6" rx="2.1" fill="#101010" opacity="0.28" filter="url(#b2)"/>
<rect x="101.0" y="624.9" width="11.0" height="4.0" rx="1.8" fill="#101010" opacity="0.15" filter="url(#b2)"/>
<rect x="121.0" y="631.5" width="18.0" height="5.6" rx="2.5" fill="#101010" opacity="0.55" filter="url(#b2)"/>
<rect x="121.4" y="624.5" width="17.2" height="6.4" rx="2.9" fill="#101010" opacity="0.42" filter="url(#b2)"/>
</g>
<rect x="36.3" y="621.5" width="104.60" height="18.00" fill="none" stroke="#0c0c0c" stroke-width="1.3"/>
<clipPath id="cr9"><rect x="145.0" y="621.0" width="105.80" height="19.00"/></clipPath>
<g clip-path="url(#cr9)">
<rect x="145.00" y="621.00" width="105.80" height="19.00" fill="#6c6c6c"/>
<rect x="210.4" y="624.7" width="17.2" height="5.2" rx="2.3" fill="#101010" opacity="0.36" filter="url(#b2)"/>
<rect x="210.4" y="632.1" width="17.2" height="5.2" rx="2.3" fill="#101010" opacity="0.3" filter="url(#b2)"/>
<rect x="230.0" y="624.3" width="20.0" height="7.2" rx="3.2" fill="#101010" opacity="0.72" filter="url(#b2)"/>
<rect x="230.0" y="632.4" width="20.0" height="6.6" rx="3.0" fill="#101010" opacity="0.68" filter="url(#b2)"/>
<rect x="162.5" y="629.5" width="9.0" height="7.0" rx="3.1" fill="#101010" opacity="0.18" filter="url(#b2)"/>
</g>
<rect x="145.5" y="621.5" width="104.80" height="18.00" fill="none" stroke="#0c0c0c" stroke-width="1.3"/>
<text transform="translate(257.6 634.8) scale(0.92 1)" font-size="8.0" text-anchor="start" fill="#0a0a0a">Cl. Caspase 3</text>
<clipPath id="cl10"><rect x="35.8" y="643.3" width="105.60" height="18.70"/></clipPath>
<g clip-path="url(#cl10)">
<rect x="35.80" y="643.30" width="105.60" height="18.70" fill="#8b8b8b"/>
<rect x="40.3" y="650.9" width="16.4" height="4.2" rx="1.9" fill="#101010" opacity="0.85" filter="url(#b1)"/>
<rect x="60.6" y="651.5" width="16.8" height="4.2" rx="1.9" fill="#101010" opacity="0.85" filter="url(#b1)"/>
<rect x="81.3" y="651.5" width="16.8" height="4.2" rx="1.9" fill="#101010" opacity="0.85" filter="url(#b1)"/>
<rect x="102.4" y="651.6" width="16.0" height="3.6" rx="1.6" fill="#101010" opacity="0.8" filter="url(#b1)"/>
<rect x="123.2" y="651.6" width="15.6" height="3.2" rx="1.4" fill="#101010" opacity="0.72" filter="url(#b1)"/>
</g>
<rect x="36.3" y="643.8" width="104.60" height="17.70" fill="none" stroke="#0c0c0c" stroke-width="1.3"/>
<clipPath id="cr10"><rect x="145.0" y="643.3" width="105.80" height="18.70"/></clipPath>
<g clip-path="url(#cr10)">
<rect x="145.00" y="643.30" width="105.80" height="18.70" fill="#646464"/>
<rect x="146.5" y="649.9" width="19.6" height="7.4" rx="3.3" fill="#101010" opacity="0.62" filter="url(#b1)"/>
<rect x="167.2" y="649.8" width="19.6" height="7.8" rx="3.5" fill="#101010" opacity="0.66" filter="url(#b1)"/>
<rect x="187.7" y="649.9" width="19.6" height="7.4" rx="3.3" fill="#101010" opacity="0.64" filter="url(#b1)"/>
<rect x="208.2" y="650.0" width="19.6" height="6.8" rx="3.1" fill="#101010" opacity="0.62" filter="url(#b1)"/>
<rect x="229.2" y="649.9" width="19.6" height="6.4" rx="2.9" fill="#101010" opacity="0.58" filter="url(#b1)"/>
</g>
<rect x="145.5" y="643.8" width="104.80" height="17.70" fill="none" stroke="#0c0c0c" stroke-width="1.3"/>
<text transform="translate(257.6 656.1999999999999) scale(0.92 1)" font-size="8.0" text-anchor="start" fill="#0a0a0a">Vinculin</text>
<rect x="0.5" y="0.5" width="519" height="697" fill="none" stroke="#333" stroke-width="1.2"/>
<rect x="0" y="0" width="520" height="1.35" fill="#3a3a3a"/>
<rect x="518.5" y="0" width="1.5" height="698" fill="#3a3a3a"/>
<rect x="0" y="0" width="1.45" height="698" fill="#333"/>
<rect x="0" y="696.2" width="520" height="1.8" fill="#3a3a3a"/>
</svg>
</body></html>
